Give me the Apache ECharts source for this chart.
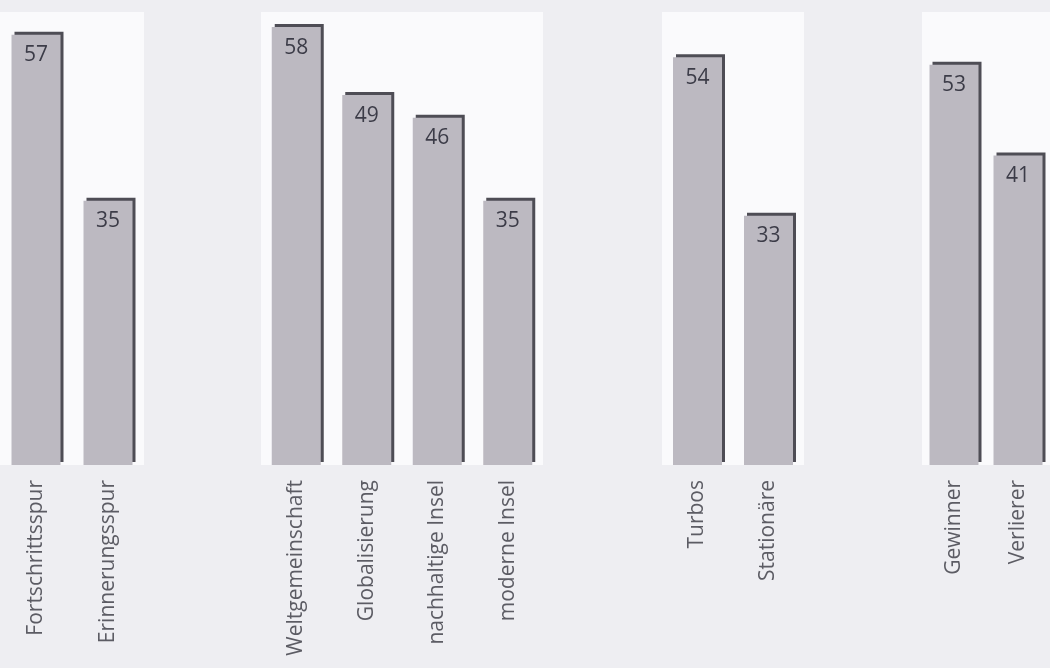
<!DOCTYPE html>
<html>
<head>
<meta charset="utf-8">
<script src="https://cdn.jsdelivr.net/npm/echarts@6/dist/echarts.min.js"></script>
<style>
  html, body { margin: 0; padding: 0; background: #eeeef2; }
  #main { width: 1050px; height: 668px; }
</style>
</head>
<body>
<div id="main"></div>
<script>
// groups of bars
var group1Names = ['Fortschrittsspur', 'Erinnerungsspur'];
var group1Values = [57, 35];
var group2Names = ['Weltgemeinschaft', 'Globalisierung', 'nachhaltige Insel', 'moderne Insel'];
var group2Values = [58, 49, 46, 35];
var group3Names = ['Turbos', 'Stationäre'];
var group3Values = [54, 33];
var group4Names = ['Gewinner', 'Verlierer'];
var group4Values = [53, 41];

var chart = echarts.init(document.getElementById('main'));

var groups = [
	{ names: group1Names, values: group1Values, left: 0, width: 144 },
	{ names: group2Names, values: group2Values, left: 261, width: 282 },
	{ names: group3Names, values: group3Values, left: 662, width: 142 },
	{ names: group4Names, values: group4Values, left: 922, width: 140 }
];

var grids = [], xAxes = [], yAxes = [], series = [];
groups.forEach(function(g, i) {
	grids.push({
		show: true,
		left: g.left,
		width: g.width,
		top: 12,
		bottom: 203,
		backgroundColor: '#fafafc',
		borderWidth: 0
	});
	xAxes.push({
		type: 'category',
		gridIndex: i,
		data: g.names,
		axisLine: { show: false },
		axisTick: { show: false },
		axisLabel: {
			rotate: 90,
			margin: 15,
			fontSize: 21,
			fontFamily: 'Open Sans',
			color: '#5c5c64'
		}
	});
	yAxes.push({
		type: 'value',
		gridIndex: i,
		min: 0,
		max: 60,
		show: false,
		splitLine: { show: false }
	});
	series.push({
		type: 'bar',
		xAxisIndex: i,
		yAxisIndex: i,
		data: g.values,
		barWidth: 49,
		itemStyle: {
			color: '#bcb9c1',
			shadowColor: '#4e4d55',
			shadowOffsetX: 3,
			shadowOffsetY: -3,
			shadowBlur: 0
		},
		label: {
			show: true,
			position: 'insideTop',
			distance: 10,
			fontSize: 21,
			fontFamily: 'Open Sans',
			color: '#3c3c48'
		},
		emphasis: { disabled: true }
	});
});

chart.setOption({
	backgroundColor: '#eeeef2',
	animation: false,
	grid: grids,
	xAxis: xAxes,
	yAxis: yAxes,
	series: series
});
</script>
</body>
</html>
